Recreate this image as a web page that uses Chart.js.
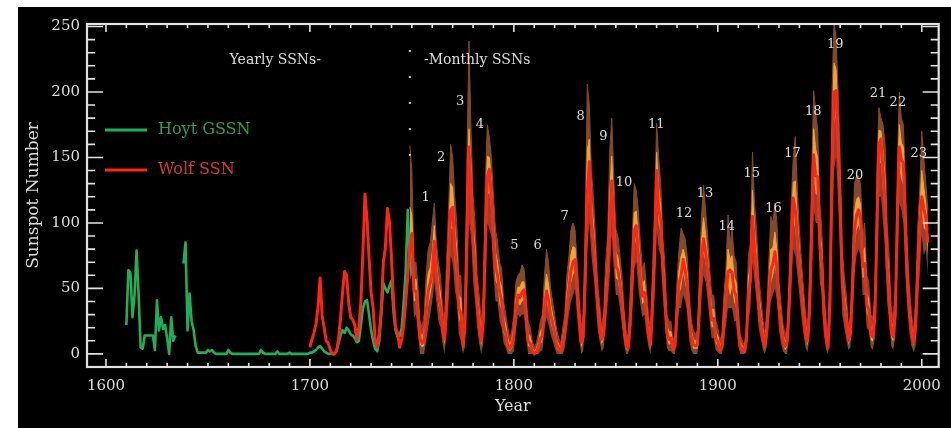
<!DOCTYPE html>
<html>
<head>
<meta charset="utf-8">
<title>Sunspot Number</title>
<script src="https://cdn.jsdelivr.net/npm/chart.js@4.4.1/dist/chart.umd.min.js"></script>
<style>
  html, body { margin: 0; padding: 0; background: #fff; }
  #wrap { position: absolute; left: 18px; top: 7px; width: 933px; height: 421px; background: #000; }
</style>
</head>
<body>
<div id="wrap"><canvas id="ssn" width="933" height="421"></canvas></div>
<script>
// Hoyt group sunspot numbers, yearly, 1610-1750 (null = no data)
const hoytStart = 1610;
const hoytGSSN = [
  22, 64, 62, 28, 45, 79, 45, 5, 4, 14,
  14, 14, 14, 14, 3, 41, 18, 28, 19, 22,
  12, 0, 28, 10, 14, null, null, null, 69, 85,
  18, 46, 25, 18, 6, 1, 1, 1, 1, 1,
  3, 2, 3, 1, 0, 0, 0, 0, 0, 0,
  3, 1, 0, 0, 0, 0, 0, 0, 0, 0,
  0, 0, 0, 0, 0, 0, 3, 1, 0, 0,
  0, 0, 0, 0, 2, 0, 0, 0, 0, 0,
  1, 0, 0, 0, 0, 0, 0, 0, 0, 0,
  1, 1, 2, 3, 5, 6, 4, 2, 1, 0,
  0, 0, 0, 2, 8, 14, 18, 16, 20, 18,
  15, 14, 12, 9, 10, 22, 35, 40, 41, 30,
  18, 10, 4, 2, 10, 30, 54, 50, 47, 52,
  56, 32, 18, 13, 14, 20, 40, 64, 110, 69,
  60
];

// Wolf sunspot numbers, yearly, 1700-1748
const wolfYearlyStart = 1700;
const wolfYearly = [
  5, 11, 16, 23, 36, 58, 29, 20, 10, 8,
  3, 0, 0, 2, 11, 27, 47, 63, 60, 39,
  28, 26, 22, 11, 21, 40, 78, 122, 103, 73,
  47, 35, 11, 5, 16, 34, 70, 81, 111, 101,
  73, 40, 20, 16, 5, 11, 22, 40, 60
];

// from 1749 on: smoothed Wolf number and the spread of the monthly values
const monthlyStart = 1749;
const wolfSmoothed = [
  82, 92, 48, 48, 31, 12, 8, 10, 32, 48,
  54, 63, 86, 61, 45, 36, 21, 11, 38, 70,
  110, 112, 82, 66, 35, 31, 7, 20, 92, 158,
  126, 85, 68, 38, 23, 10, 24, 83, 135, 141,
  118, 90, 67, 60, 47, 41, 21, 16, 6, 4,
  7, 14, 34, 45, 43, 47, 49, 28, 10, 8,
  2.5, 0, 1.4, 5, 12, 14, 35, 48, 41, 30,
  24, 16, 7, 4, 1.8, 8.5, 17, 36, 50, 64,
  70, 72, 48, 28, 8.5, 13, 57, 122, 147, 103,
  86, 65, 37, 24, 11, 15, 40, 62, 99, 132,
  96, 67, 64, 54, 39, 21, 7, 4, 23, 55,
  94, 98, 77, 59, 44, 47, 30, 16, 7, 38,
  74, 140, 111, 102, 66, 45, 17, 11, 12, 3.4,
  6, 32, 54, 60, 72, 64, 52, 25, 13, 7,
  6, 7, 36, 73, 88, 78, 64, 42, 26, 27,
  12, 9.5, 2.7, 5, 24, 42, 63, 64, 62, 48,
  44, 19, 6, 3.6, 1.4, 10, 47, 57, 105, 81,
  64, 38, 26, 14, 6, 17, 44, 64, 69, 78,
  65, 36, 21, 11, 5.7, 8.7, 36, 80, 119, 110,
  89, 68, 48, 31, 16, 9.6, 33, 93, 152, 136,
  135, 84, 69, 31, 14, 4.4, 38, 142, 200, 201,
  159, 112, 54, 38, 28, 10, 15, 47, 94, 106,
  110, 104, 67, 69, 38, 34, 15, 13, 27, 92,
  160, 164, 140, 116, 67, 46, 18, 13, 29, 100,
  158, 148, 146, 94, 55, 30, 17, 8.6, 21, 64,
  93, 120, 111, 104, 85
];
const monthlyHigh = [
  159, 140, 70, 70, 50, 25, 20, 30, 60, 80,
  85, 100, 115, 85, 70, 60, 35, 25, 70, 110,
  160, 150, 120, 100, 60, 60, 20, 40, 150, 239,
  170, 120, 100, 60, 45, 25, 45, 130, 175, 165,
  150, 120, 95, 85, 70, 65, 40, 30, 20, 12,
  18, 30, 55, 60, 62, 68, 65, 45, 25, 20,
  10, 5, 8, 15, 25, 30, 60, 80, 70, 50,
  40, 30, 18, 12, 8, 20, 30, 60, 75, 95,
  100, 95, 70, 45, 20, 30, 100, 206, 190, 140,
  120, 90, 55, 40, 22, 30, 70, 90, 155, 180,
  135, 95, 90, 75, 60, 35, 18, 12, 45, 85,
  130, 125, 110, 85, 65, 70, 50, 30, 18, 65,
  110, 176, 150, 130, 90, 70, 30, 25, 25, 10,
  15, 55, 80, 96, 92, 88, 75, 45, 25, 18,
  15, 18, 60, 105, 129, 110, 90, 65, 45, 45,
  25, 20, 10, 15, 45, 65, 106, 85, 95, 75,
  70, 35, 15, 10, 6, 22, 75, 85, 154, 115,
  95, 60, 45, 28, 15, 32, 70, 105, 100, 115,
  100, 55, 38, 22, 15, 20, 60, 115, 150, 166,
  125, 95, 70, 50, 30, 20, 60, 135, 201, 185,
  170, 115, 95, 50, 28, 12, 70, 200, 254, 240,
  200, 150, 80, 60, 45, 22, 28, 75, 130, 136,
  136, 130, 90, 100, 60, 55, 30, 28, 45, 140,
  188, 180, 175, 160, 100, 75, 35, 28, 50, 140,
  200, 180, 175, 130, 80, 50, 30, 18, 40, 95,
  125, 170, 150, 130, 110
];
const monthlyLow = [
  56, 60, 28, 30, 15, 0, 0, 0, 10, 20,
  30, 40, 55, 40, 25, 20, 8, 0, 15, 40,
  75, 70, 50, 40, 15, 10, 0, 5, 40, 100,
  90, 55, 40, 20, 8, 0, 8, 45, 100, 95,
  90, 60, 40, 40, 25, 20, 8, 5, 0, 0,
  0, 2, 18, 30, 28, 30, 30, 12, 0, 0,
  0, 0, 0, 0, 2, 3, 18, 28, 22, 15,
  10, 5, 0, 0, 0, 0, 5, 18, 30, 40,
  45, 50, 28, 12, 0, 2, 25, 80, 100, 75,
  60, 45, 20, 10, 2, 4, 20, 38, 60, 90,
  65, 45, 45, 35, 22, 8, 0, 0, 8, 30,
  65, 70, 50, 38, 28, 30, 15, 5, 0, 15,
  45, 95, 80, 75, 45, 25, 5, 2, 2, 0,
  0, 15, 35, 35, 45, 40, 32, 10, 3, 0,
  0, 0, 15, 45, 60, 55, 42, 25, 12, 12,
  3, 1, 0, 0, 8, 22, 35, 35, 35, 25,
  25, 6, 0, 0, 0, 1, 25, 35, 70, 55,
  40, 20, 12, 4, 0, 5, 22, 40, 45, 50,
  40, 18, 8, 2, 0, 0, 18, 50, 80, 75,
  60, 45, 28, 15, 5, 1, 15, 55, 110, 100,
  100, 55, 45, 15, 4, 0, 12, 85, 140, 150,
  115, 75, 30, 20, 12, 3, 5, 25, 60, 75,
  80, 75, 45, 45, 20, 18, 5, 3, 12, 60,
  120, 120, 100, 80, 40, 25, 6, 3, 12, 60,
  115, 110, 100, 60, 35, 15, 6, 1, 6, 35,
  60, 90, 75, 80, 60
];
const orangeHigh = [
  112, 106, 57, 57, 39, 17, 13, 18, 43, 61,
  66, 78, 98, 71, 55, 46, 27, 17, 51, 86,
  130, 127, 97, 80, 45, 43, 12, 28, 115, 172,
  144, 99, 81, 47, 32, 16, 32, 102, 151, 150,
  131, 102, 78, 70, 56, 51, 29, 22, 12, 7,
  11, 20, 42, 51, 51, 55, 55, 35, 16, 13,
  5, 2, 4, 9, 17, 20, 45, 61, 53, 38,
  30, 22, 11, 7, 4, 13, 22, 46, 60, 76,
  82, 81, 57, 35, 13, 20, 74, 156, 164, 118,
  100, 75, 44, 30, 15, 21, 52, 73, 121, 151,
  112, 78, 74, 62, 47, 27, 11, 7, 32, 67,
  108, 109, 90, 69, 52, 56, 38, 22, 11, 49,
  88, 154, 127, 113, 76, 55, 22, 17, 17, 6,
  10, 41, 64, 74, 80, 74, 61, 33, 18, 11,
  10, 11, 46, 86, 104, 91, 74, 51, 34, 34,
  17, 14, 6, 9, 32, 51, 80, 72, 75, 59,
  54, 25, 10, 6, 3, 15, 58, 68, 125, 95,
  76, 47, 34, 20, 10, 23, 54, 80, 81, 93,
  79, 44, 28, 15, 9, 13, 46, 94, 131, 132,
  103, 79, 57, 39, 22, 14, 44, 110, 172, 156,
  149, 96, 79, 39, 20, 7, 51, 165, 222, 217,
  175, 127, 64, 47, 35, 15, 20, 58, 108, 118,
  120, 114, 76, 81, 47, 42, 21, 19, 34, 111,
  171, 170, 154, 134, 80, 58, 25, 19, 37, 116,
  175, 161, 158, 108, 65, 38, 22, 12, 29, 76,
  106, 140, 127, 114, 95
];
const orangeLow = [
  71, 74, 40, 41, 25, 7, 5, 6, 23, 37,
  44, 54, 74, 53, 37, 30, 16, 7, 29, 58,
  96, 95, 69, 56, 27, 23, 4, 14, 71, 135,
  112, 73, 57, 31, 17, 6, 18, 68, 121, 123,
  107, 78, 56, 52, 38, 33, 16, 12, 4, 2,
  4, 9, 28, 39, 37, 40, 41, 22, 6, 5,
  1, 0, 1, 3, 8, 9, 28, 40, 33, 24,
  18, 12, 4, 2, 1, 5, 12, 29, 42, 54,
  60, 63, 40, 22, 5, 9, 44, 105, 128, 92,
  76, 57, 30, 18, 7, 11, 32, 52, 83, 115,
  84, 58, 56, 46, 32, 16, 4, 2, 17, 45,
  82, 87, 66, 51, 38, 40, 24, 12, 4, 29,
  62, 122, 99, 91, 58, 37, 12, 7, 8, 2,
  4, 25, 46, 50, 61, 54, 44, 19, 9, 4,
  4, 4, 28, 62, 77, 69, 55, 35, 20, 21,
  8, 6, 2, 3, 18, 34, 52, 44, 51, 39,
  36, 14, 4, 2, 1, 6, 38, 48, 91, 71,
  54, 31, 20, 10, 4, 12, 35, 54, 59, 67,
  55, 29, 16, 7, 3, 5, 29, 68, 103, 94,
  77, 59, 40, 25, 12, 6, 26, 78, 135, 122,
  121, 72, 59, 25, 10, 3, 28, 119, 176, 181,
  141, 97, 44, 31, 22, 7, 11, 38, 80, 94,
  98, 92, 58, 59, 31, 28, 11, 9, 21, 79,
  144, 146, 124, 102, 56, 38, 13, 9, 22, 84,
  141, 133, 128, 80, 47, 24, 13, 6, 15, 52,
  80, 108, 96, 94, 75
];

// cycle numbers and where they are written
const cycleNumbers = ['1', '2', '3', '4', '5', '6', '7', '8', '9', '10', '11', '12',
  '13', '14', '15', '16', '17', '18', '19', '20', '21', '22', '23'];
const cycleLabelYears = [1756.8, 1764.4, 1773.7, 1783.3, 1800.3, 1811.7, 1824.9, 1832.7,
  1843.9, 1854.0, 1869.8, 1883.4, 1893.7, 1904.4, 1916.6, 1927.3, 1936.6, 1946.8,
  1957.6, 1967.3, 1978.5, 1988.3, 1998.5];
const cycleLabelValues = [119, 150, 193, 175, 83, 83, 105, 181, 166, 131, 175, 107,
  122, 97, 138, 111, 153, 185, 236, 136, 199, 192, 153];

const xTicks = [1600, 1700, 1800, 1900, 2000];
const yTicks = [0, 50, 100, 150, 200, 250];
const monthlyFrom = 1749;

const toPoints = (start, arr) => arr.map((v, i) => ({ x: start + i, y: v }));

const TXT = '#dcdcdc';
const SERIF = "'DejaVu Serif', 'Liberation Serif', serif";
const RED = '#ff2414';
const GREEN = '#1fae5a';
const ORANGE = '#f4a232';
const BROWN = '#84492b';

const frameAndTicks = {
  id: 'frameAndTicks',
  afterDatasetsDraw(chart) {
    const { ctx, chartArea: a, scales: { x, y } } = chart;
    ctx.save();
    ctx.strokeStyle = '#e2e2e2';
    ctx.lineWidth = 1.6;
    ctx.beginPath();
    for (let v = 0; v <= 250; v += 10) {
      const py = y.getPixelForValue(v);
      const len = v % 50 === 0 ? 16 : 8;
      ctx.moveTo(a.left, py); ctx.lineTo(a.left + len, py);
      ctx.moveTo(a.right, py); ctx.lineTo(a.right - len, py);
    }
    for (let v = 1600; v <= 2000; v += 10) {
      const px = x.getPixelForValue(v);
      const len = v % 100 === 0 ? 8 : 4;
      ctx.moveTo(px, a.bottom); ctx.lineTo(px, a.bottom - len);
      ctx.moveTo(px, a.top); ctx.lineTo(px, a.top + len);
    }
    ctx.stroke();
    ctx.lineWidth = 2.2;
    ctx.strokeRect(a.left, a.top, a.right - a.left, a.bottom - a.top);
    ctx.restore();
  }
};

const annotations = {
  id: 'annotations',
  afterDatasetsDraw(chart) {
    const { ctx, scales: { x, y } } = chart;
    ctx.save();

    // boundary between yearly and monthly data
    const bx = x.getPixelForValue(monthlyFrom);
    ctx.strokeStyle = '#c4c4c4';
    ctx.lineWidth = 2;
    ctx.setLineDash([2, 24]);
    ctx.beginPath();
    ctx.moveTo(bx, y.getPixelForValue(232));
    ctx.lineTo(bx, y.getPixelForValue(148));
    ctx.stroke();
    ctx.setLineDash([]);

    ctx.fillStyle = TXT;
    ctx.font = '14px ' + SERIF;
    ctx.textBaseline = 'middle';
    ctx.textAlign = 'center';
    ctx.fillText('Yearly SSNs-', x.getPixelForValue(1683), y.getPixelForValue(224));
    ctx.fillText('-Monthly SSNs', x.getPixelForValue(1782), y.getPixelForValue(224));

    ctx.font = '13px ' + SERIF;
    cycleNumbers.forEach((t, i) => {
      ctx.fillText(t, x.getPixelForValue(cycleLabelYears[i]), y.getPixelForValue(cycleLabelValues[i]));
    });

    // legend
    const items = [['Hoyt GSSN', GREEN, '#23a055', 123], ['Wolf SSN', RED, '#d23c26', 163]];
    ctx.font = '16px ' + SERIF;
    ctx.textAlign = 'left';
    items.forEach(([label, line, text, ly]) => {
      ctx.strokeStyle = line;
      ctx.lineWidth = 3;
      ctx.beginPath();
      ctx.moveTo(87, ly); ctx.lineTo(129, ly);
      ctx.stroke();
      ctx.fillStyle = text;
      ctx.fillText(label, 140, ly);
    });
    ctx.restore();
  }
};

new Chart(document.getElementById('ssn'), {
  type: 'line',
  data: {
    datasets: [
      {
        label: 'Wolf SSN',
        data: toPoints(wolfYearlyStart, wolfYearly).concat(toPoints(monthlyStart, wolfSmoothed)),
        borderColor: RED,
        borderWidth: 3,
        borderJoinStyle: 'round',
        pointRadius: 0,
      },
      {
        label: 'Hoyt GSSN',
        data: toPoints(hoytStart, hoytGSSN),
        borderColor: GREEN,
        borderWidth: 2.6,
        borderJoinStyle: 'round',
        pointRadius: 0,
        spanGaps: false,
      },
      {
        label: 'orange low',
        data: toPoints(monthlyStart, orangeLow),
        borderWidth: 0,
        pointRadius: 0,
        fill: false,
      },
      {
        label: 'orange high',
        data: toPoints(monthlyStart, orangeHigh),
        borderColor: ORANGE,
        borderWidth: 1,
        borderJoinStyle: 'round',
        backgroundColor: ORANGE,
        pointRadius: 0,
        fill: { target: 2 },
      },
      {
        label: 'monthly low',
        data: toPoints(monthlyStart, monthlyLow),
        borderWidth: 0,
        pointRadius: 0,
        fill: false,
      },
      {
        label: 'monthly high',
        data: toPoints(monthlyStart, monthlyHigh),
        borderColor: BROWN,
        borderWidth: 1,
        borderJoinStyle: 'round',
        backgroundColor: BROWN,
        pointRadius: 0,
        fill: { target: 4 },
      },
    ],
  },
  options: {
    responsive: false,
    animation: false,
    layout: { padding: { top: 17, right: 8, left: 0, bottom: 0 } },
    plugins: {
      legend: { display: false },
      tooltip: { enabled: false },
    },
    scales: {
      x: {
        type: 'linear',
        min: 1590.7,
        max: 2008.3,
        afterBuildTicks: (s) => { s.ticks = xTicks.map((v) => ({ value: v })); },
        afterFit: (s) => { s.height = 61; },
        grid: { display: false, drawTicks: false },
        border: { display: false },
        ticks: {
          color: TXT,
          font: { family: SERIF, size: 15 },
          padding: 10,
          maxRotation: 0,
          autoSkip: false,
          callback: (v) => String(v),
        },
        title: {
          display: true,
          text: 'Year',
          color: TXT,
          font: { family: SERIF, size: 16 },
          padding: { top: 0, bottom: 12 },
        },
      },
      y: {
        min: -10,
        max: 251.9,
        afterBuildTicks: (s) => { s.ticks = yTicks.map((v) => ({ value: v })); },
        afterFit: (s) => { s.width = 69; },
        grid: { display: false, drawTicks: false },
        border: { display: false },
        ticks: {
          color: TXT,
          font: { family: SERIF, size: 15 },
          padding: 7,
          callback: (v) => String(v),
        },
        title: {
          display: true,
          text: 'Sunspot Number',
          color: TXT,
          font: { family: SERIF, size: 17 },
          padding: { top: 5, bottom: 0 },
        },
      },
    },
  },
  plugins: [frameAndTicks, annotations],
});
</script>
</body>
</html>
